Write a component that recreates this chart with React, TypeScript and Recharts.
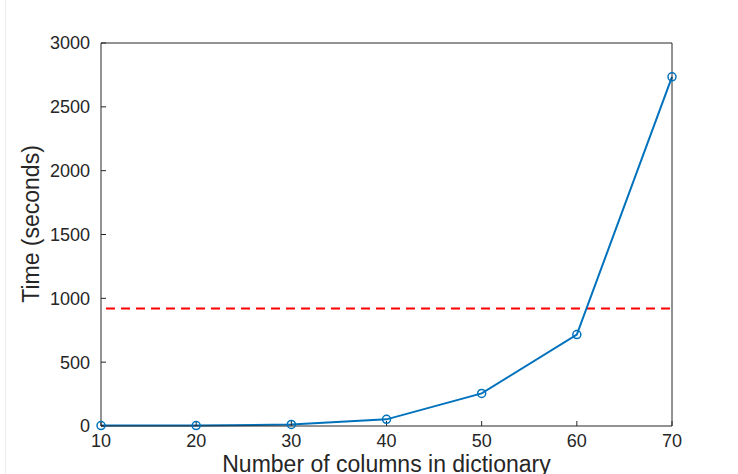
import { LineChart, Line, XAxis, YAxis, ReferenceLine, Label } from 'recharts';

const columns = [10, 20, 30, 40, 50, 60, 70];
const times = [3, 3, 12, 52, 255, 716, 2735];
const threshold = 920;
const xTicks = [10, 20, 30, 40, 50, 60, 70];
const yTicks = [0, 500, 1000, 1500, 2000, 2500, 3000];

const data = columns.map((c, i) => ({ columns: c, time: times[i] }));

const FONT = '"Liberation Sans", Arial, Helvetica, sans-serif';
const AXIS = '#262626';
const tickStyle = { fill: AXIS, fontSize: 18, fontFamily: FONT };

export default function App() {
  return (
    <div style={{ position: 'relative', width: 738, height: 474 }}>
      <style>{'body{margin:0}'}</style>
      <div style={{ position: 'absolute', left: 5, top: 0, width: 1, height: 474, background: '#ececec' }} />
      <LineChart
        width={738}
        height={474}
        data={data}
        margin={{ top: 0, right: 0, left: 0, bottom: 0 }}
        style={{ background: 'transparent' }}
      >
        <XAxis
          dataKey="columns"
          type="number"
          domain={[10, 70]}
          ticks={xTicks}
          height={48}
          stroke={AXIS}
          tickSize={-5}
          tickMargin={13}
          tick={tickStyle}
        >
          <Label
            content={() => (
              <text x={386.5} y={471.5} textAnchor="middle" fill={AXIS} fontSize={23} fontFamily={FONT}>
                Number of columns in dictionary
              </text>
            )}
          />
        </XAxis>
        <XAxis
          xAxisId="top"
          orientation="top"
          type="number"
          domain={[10, 70]}
          ticks={xTicks}
          height={43}
          stroke={AXIS}
          tickSize={-5}
          tickFormatter={() => ''}
        />
        <YAxis
          type="number"
          domain={[0, 3000]}
          ticks={yTicks}
          width={101}
          stroke={AXIS}
          tickSize={-5}
          tickMargin={16}
          tick={tickStyle}
        >
          <Label
            content={() => (
              <text
                x={0}
                y={0}
                transform="translate(38.5 224) rotate(-90)"
                textAnchor="middle"
                fill={AXIS}
                fontSize={23}
                fontFamily={FONT}
              >
                Time (seconds)
              </text>
            )}
          />
        </YAxis>
        <YAxis
          yAxisId="right"
          orientation="right"
          type="number"
          domain={[0, 3000]}
          ticks={yTicks}
          width={66}
          stroke={AXIS}
          tickSize={-5}
          tickFormatter={() => ''}
        />
        <ReferenceLine
          y={threshold}
          stroke="#FF0000"
          strokeWidth={2}
          strokeDasharray="9 6"
          strokeDashoffset={-5}
          ifOverflow="extendDomain"
        />
        <Line
          dataKey="time"
          stroke="#0072BD"
          strokeWidth={2}
          dot={{ r: 4, stroke: '#0072BD', strokeWidth: 1.5, fill: 'none' }}
          isAnimationActive={false}
        />
      </LineChart>
    </div>
  );
}
